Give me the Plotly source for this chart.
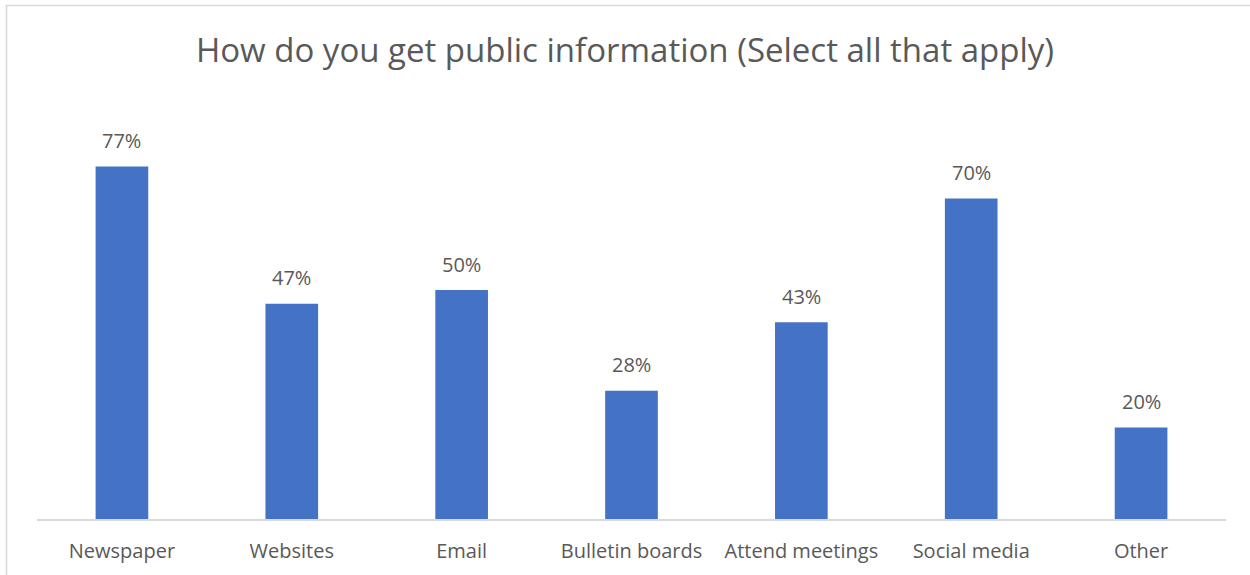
import plotly.graph_objects as go

categories = ["Newspaper", "Websites", "Email", "Bulletin boards", "Attend meetings", "Social media", "Other"]
values = [0.77, 0.47, 0.50, 0.28, 0.43, 0.70, 0.20]
labels = ["77%", "47%", "50%", "28%", "43%", "70%", "20%"]
title = "How do you get public information (Select all that apply)"

FONT = "Open Sans, Noto Sans, sans-serif"
TXT = "#595959"

fig = go.Figure()
fig.add_trace(go.Bar(x=categories, y=values, marker_color="#4472C4", marker_line_width=0,
                     hoverinfo="skip"))

for c, v, l in zip(categories, values, labels):
    fig.add_annotation(x=c, y=v, text=l, showarrow=False, yshift=26,
                       font=dict(family=FONT, size=20, color=TXT))

fig.update_layout(
    width=1250, height=575,
    margin=dict(l=37, r=24, t=107, b=56),
    paper_bgcolor="white", plot_bgcolor="white",
    bargap=0.69,
    showlegend=False,
    title=dict(text=title, x=0.5, xanchor="center", y=1 - 50 / 575, yanchor="middle",
               font=dict(family=FONT, size=33, color=TXT)),
    xaxis=dict(showline=True, linecolor="#D9D9D9", linewidth=1.5, ticks="",
               tickfont=dict(family=FONT, size=20, color=TXT), ticklabelstandoff=13,
               showgrid=False, zeroline=False, fixedrange=True),
    yaxis=dict(range=[0, 0.9], visible=False, showgrid=False, zeroline=False, fixedrange=True),
    shapes=[dict(type="rect", xref="paper", yref="paper",
                 x0=(6.5 - 37) / 1189, x1=1.1, y0=-0.3, y1=1 + (107 - 5.5) / 412,
                 line=dict(color="#D9D9D9", width=1.5), fillcolor="rgba(0,0,0,0)", layer="below")],
)

fig.write_html("out.html", config={"displayModeBar": False},
               post_script="document.body.style.margin='0';document.body.style.overflow='hidden';")
